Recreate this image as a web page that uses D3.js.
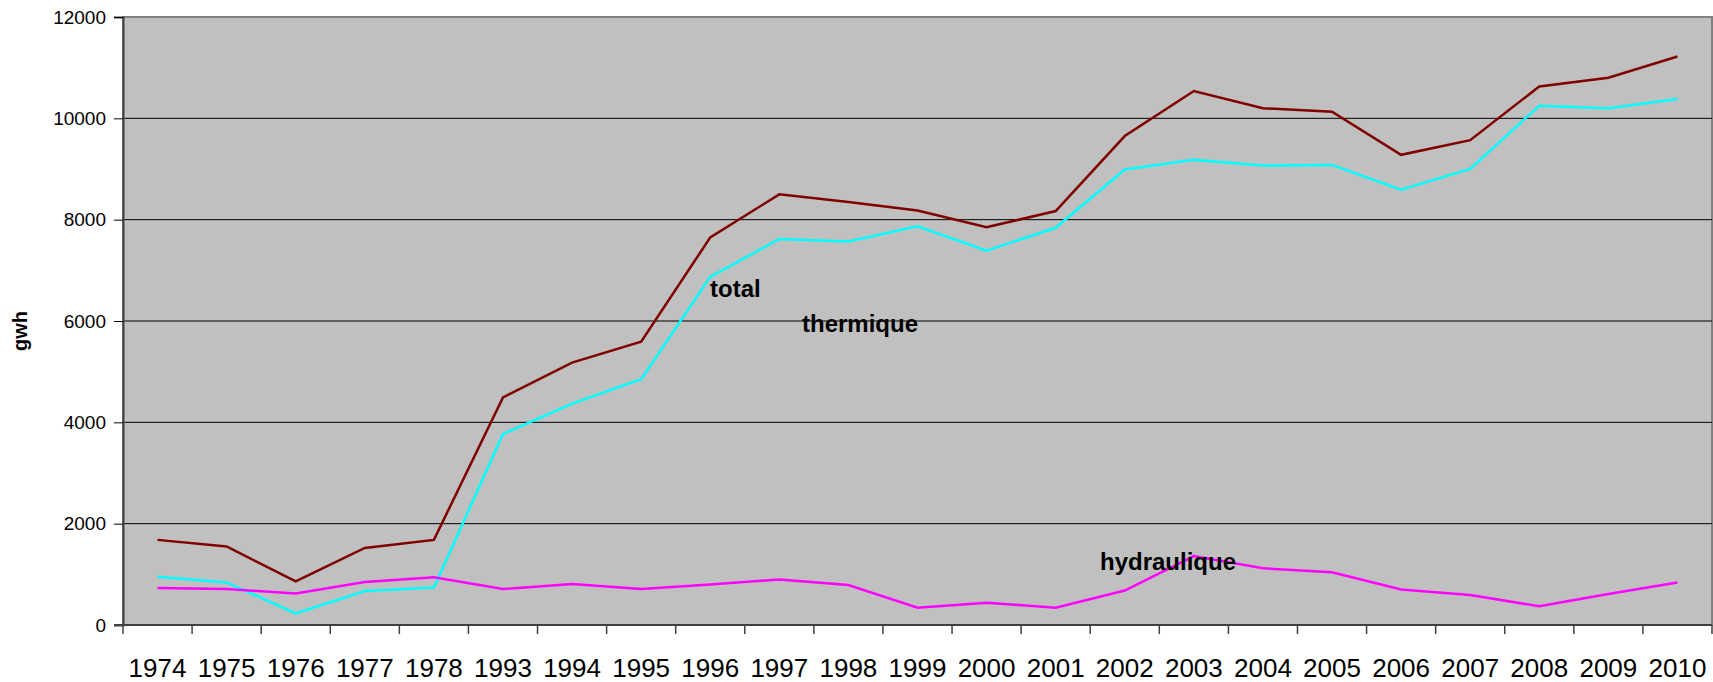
<!DOCTYPE html>
<html>
<head>
<meta charset="utf-8">
<script src="https://cdn.jsdelivr.net/npm/d3@7"></script>
<style>
  body { margin: 0; background: #fff; }
  text { font-family: "Liberation Sans", Arial, sans-serif; }
</style>
</head>
<body>
<div id="chart"></div>
<script>
// data
const years = ["1974","1975","1976","1977","1978","1993","1994","1995","1996","1997","1998","1999",
               "2000","2001","2002","2003","2004","2005","2006","2007","2008","2009","2010"];
const total = [1680,1550,860,1520,1680,4490,5180,5590,7650,8500,8350,8180,
               7850,8170,9650,10540,10200,10130,9280,9570,10630,10800,11220];
const thermique = [950,840,230,670,740,3770,4370,4850,6870,7620,7570,7870,
                   7390,7840,8990,9180,9070,9080,8590,9000,10250,10200,10380];
const hydraulique = [730,710,620,850,940,710,810,710,800,900,790,340,
                     440,340,680,1360,1120,1040,700,590,370,610,840];
const yTicks = [0,2000,4000,6000,8000,10000,12000];

const W = 1713, H = 682;
const plot = {left: 123, right: 1712, top: 17, bottom: 625};

const svg = d3.select("#chart").append("svg")
    .attr("width", W)
    .attr("height", H);

const x = d3.scaleBand().domain(years).range([plot.left, plot.right]);
const y = d3.scaleLinear().domain([0, 12000]).range([plot.bottom, plot.top]);

// plot background
svg.append("rect")
    .attr("x", plot.left).attr("y", plot.top)
    .attr("width", plot.right - plot.left)
    .attr("height", plot.bottom - plot.top)
    .attr("fill", "#c0c0c0")
    .attr("stroke", "#808080")
    .attr("stroke-width", 2);

// gridlines
svg.append("g")
    .selectAll("line")
    .data(yTicks.filter(d => d > 0 && d < 12000))
    .enter()
    .append("line")
    .attr("x1", plot.left).attr("x2", plot.right)
    .attr("y1", d => y(d)).attr("y2", d => y(d))
    .attr("stroke", "#000")
    .attr("stroke-width", 1);

// y axis
const yAxis = d3.axisLeft(y).tickValues(yTicks).tickSize(9).tickPadding(8).tickFormat(d3.format("d"));
const gy = svg.append("g")
    .attr("transform", `translate(${plot.left},0)`)
    .call(yAxis);
gy.select(".domain").attr("stroke", "#404040").attr("stroke-width", 2);
gy.selectAll(".tick line").attr("stroke", "#000");
gy.selectAll(".tick text").attr("font-size", "19px").attr("fill", "#000");

// x axis: labels centered, ticks between categories
const gx = svg.append("g");
gx.append("line")
    .attr("x1", plot.left - 9).attr("x2", plot.right)
    .attr("y1", plot.bottom).attr("y2", plot.bottom)
    .attr("stroke", "#404040").attr("stroke-width", 2);
gx.selectAll(".xt")
    .data(years.concat(["end"]))
    .enter()
    .append("line")
    .attr("x1", (d, i) => plot.left + i * x.step())
    .attr("x2", (d, i) => plot.left + i * x.step())
    .attr("y1", plot.bottom).attr("y2", plot.bottom + 9)
    .attr("stroke", "#404040").attr("stroke-width", 1.5);
gx.selectAll(".xl")
    .data(years)
    .enter()
    .append("text")
    .attr("x", d => x(d) + x.bandwidth() / 2)
    .attr("y", 677)
    .attr("text-anchor", "middle")
    .attr("font-size", "26px")
    .text(d => d);

// y label
svg.append("text")
    .attr("transform", "translate(27,331) rotate(-90)")
    .attr("text-anchor", "middle")
    .attr("font-size", "20px")
    .attr("font-weight", "bold")
    .text("gwh");

// series
const series = [
    {name: "total", values: total, color: "#800000"},
    {name: "thermique", values: thermique, color: "#00ffff"},
    {name: "hydraulique", values: hydraulique, color: "#ff00ff"}
];

const line = d3.line()
    .x((d, i) => x(years[i]) + x.bandwidth() / 2)
    .y(d => y(d));

svg.append("g")
    .selectAll("path")
    .data(series)
    .enter()
    .append("path")
    .attr("d", d => line(d.values))
    .attr("fill", "none")
    .attr("stroke", d => d.color)
    .attr("stroke-width", 2.5);

// series labels
const labels = [
    {text: "total", x: 710, y: 297},
    {text: "thermique", x: 802, y: 332},
    {text: "hydraulique", x: 1100, y: 570}
];
svg.append("g")
    .selectAll("text")
    .data(labels)
    .enter()
    .append("text")
    .attr("x", d => d.x)
    .attr("y", d => d.y)
    .attr("font-size", "24px")
    .attr("font-weight", "bold")
    .text(d => d.text);
</script>
</body>
</html>
